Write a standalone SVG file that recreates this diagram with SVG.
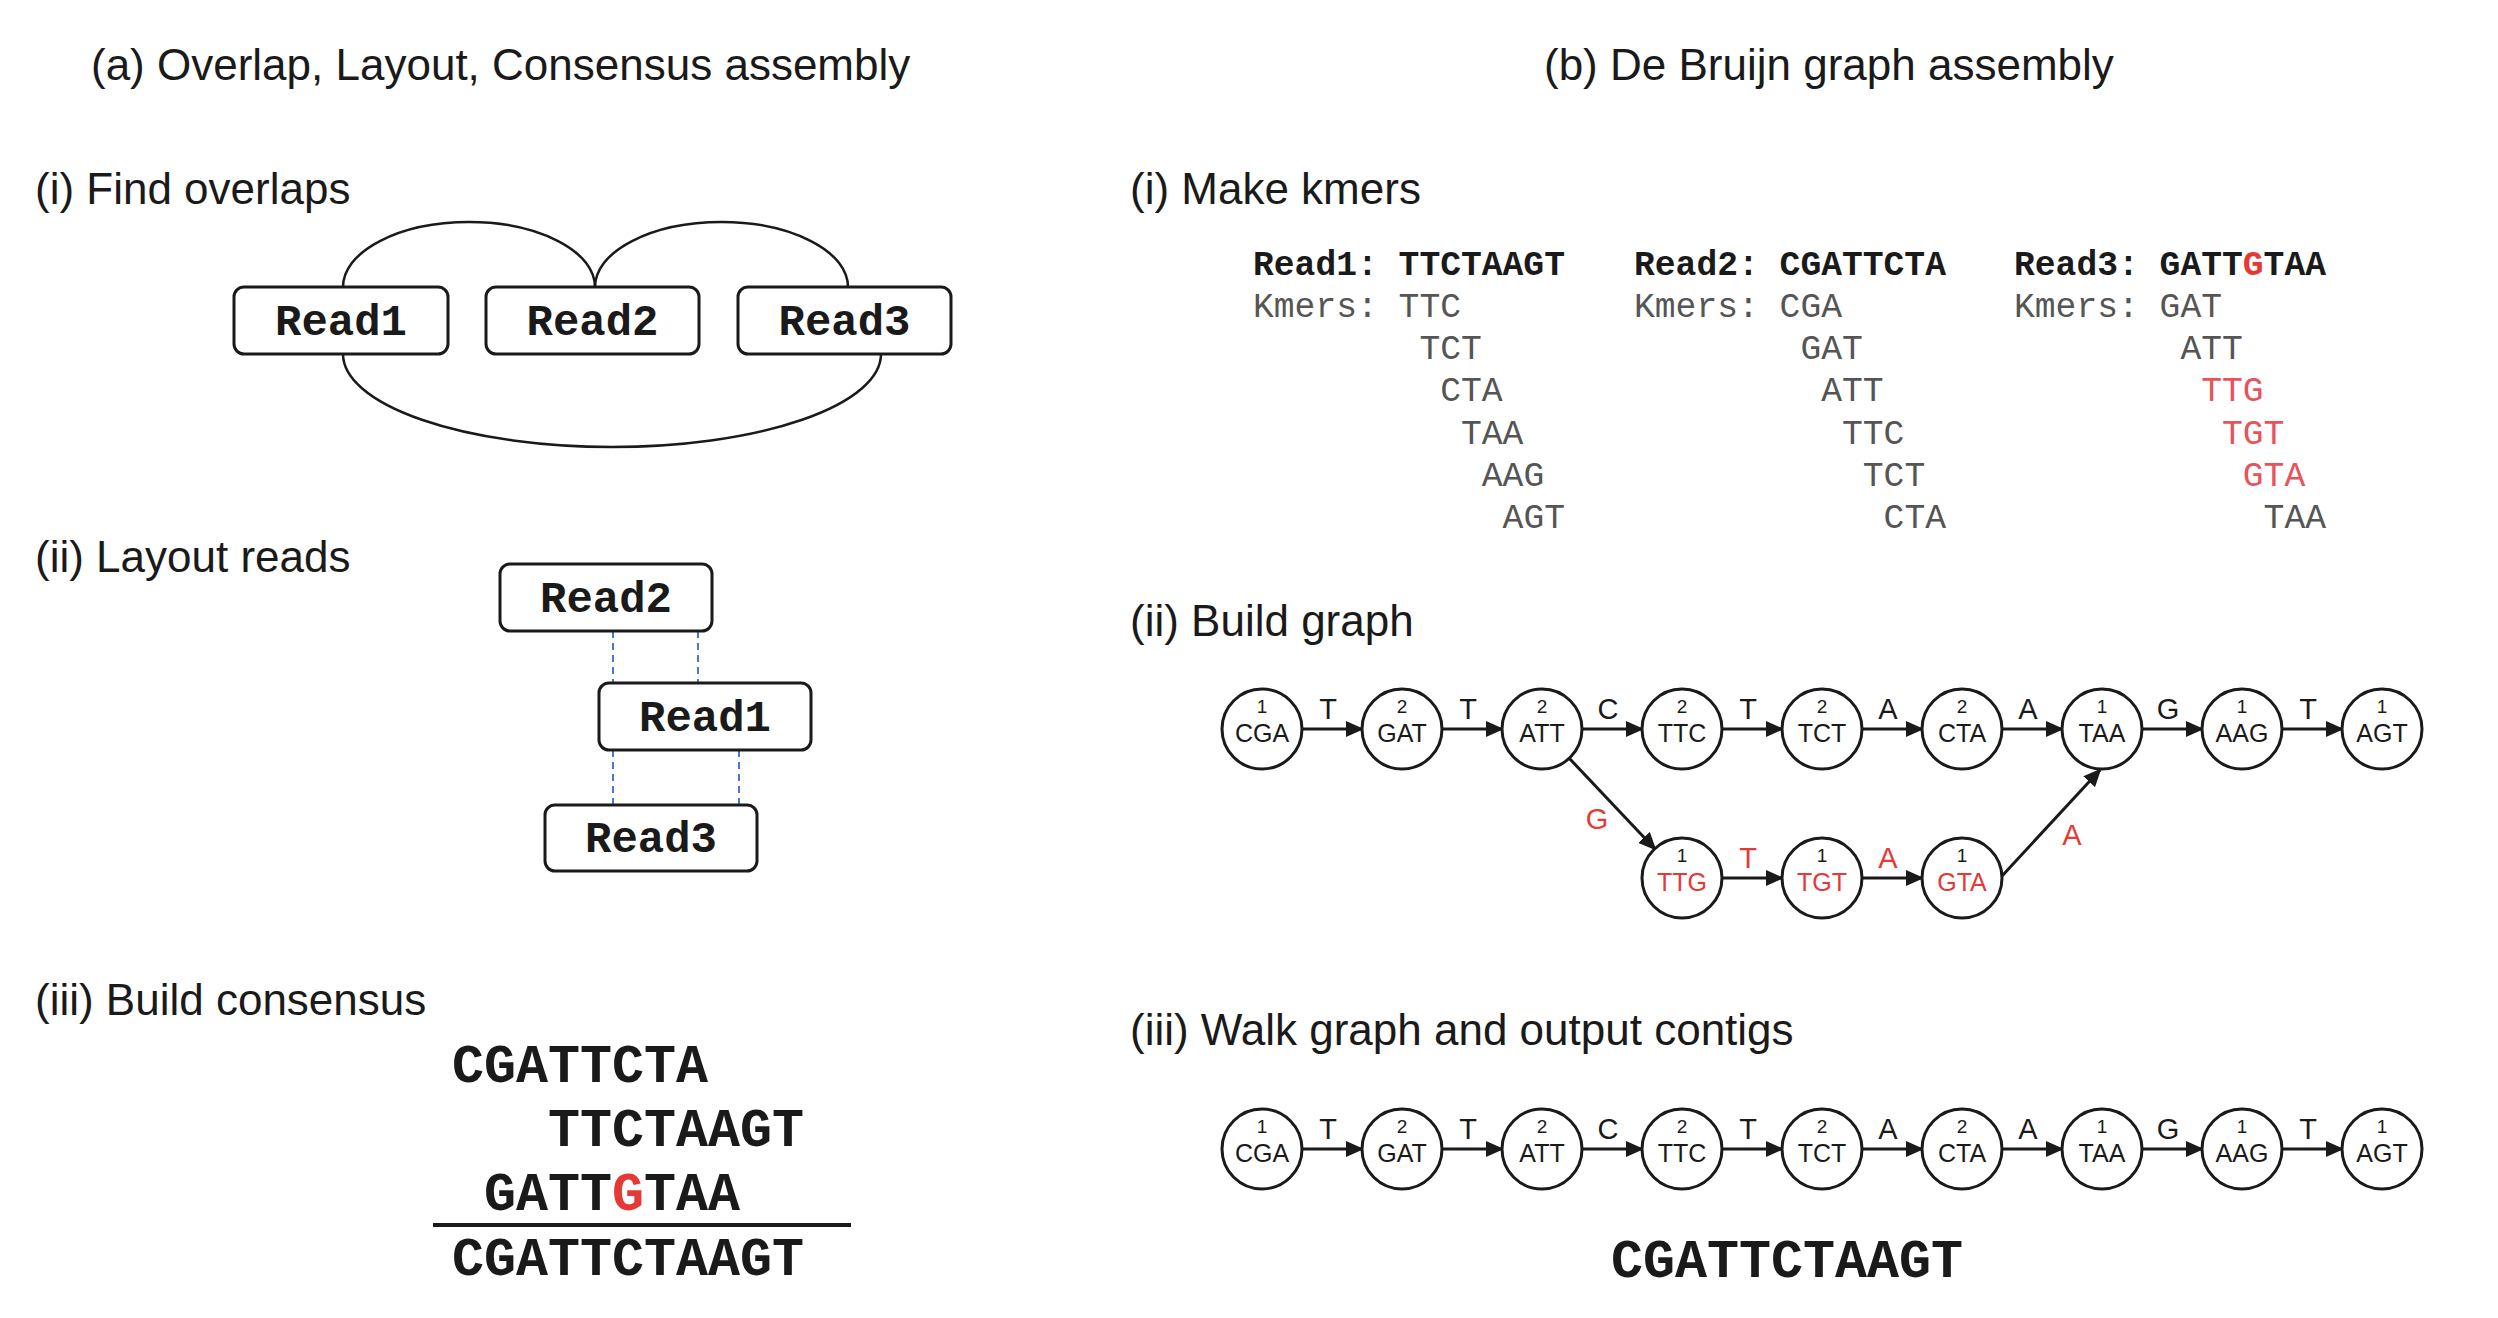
<svg xmlns="http://www.w3.org/2000/svg" width="2498" height="1318" viewBox="0 0 2498 1318">
<style>
.h{font-family:"Liberation Sans",Arial,sans-serif;font-size:44px;fill:#1a1a1a}
.box{fill:#fff;stroke:#1a1a1a;stroke-width:3}
.bt{font-family:"Liberation Mono","Courier New",monospace;font-weight:bold;font-size:44px;text-anchor:middle;fill:#1a1a1a}
.seq{font-family:"Liberation Mono","Courier New",monospace;font-weight:bold;font-size:53.33px;fill:#1a1a1a}
.kh{font-family:"Liberation Mono","Courier New",monospace;font-weight:bold;font-size:34.67px;fill:#1a1a1a}
.km{font-family:"Liberation Mono","Courier New",monospace;font-size:34.67px;fill:#555}
.arc{fill:none;stroke:#1a1a1a;stroke-width:2.5}
.dash{stroke:#4a78d0;stroke-width:2;stroke-dasharray:7 5}
.nc{fill:#fff;stroke:#1a1a1a;stroke-width:3}
.num{font-family:"Liberation Sans",Arial,sans-serif;font-size:19px;text-anchor:middle;fill:#1a1a1a}
.kmer{font-family:"Liberation Sans",Arial,sans-serif;font-size:25px;text-anchor:middle;fill:#1a1a1a}
.edge{stroke:#1a1a1a;stroke-width:3;fill:none;marker-end:url(#ah)}
.el{font-family:"Liberation Sans",Arial,sans-serif;font-size:29px;text-anchor:middle;fill:#1a1a1a}
.red{fill:#e53935}
.kred{fill:#e8525a}
</style>
<defs>
<marker id="ah" markerWidth="18" markerHeight="16" refX="16" refY="8" orient="auto" markerUnits="userSpaceOnUse"><path d="M0,0 L18,8 L0,16 z" fill="#1a1a1a"/></marker>
</defs>
<rect width="2498" height="1318" fill="#fff"/>

<!-- Headings -->
<text class="h" x="91" y="80">(a) Overlap, Layout, Consensus assembly</text>
<text class="h" x="35" y="204">(i) Find overlaps</text>
<text class="h" x="35" y="572">(ii) Layout reads</text>
<text class="h" x="35" y="1015">(iii) Build consensus</text>
<text class="h" x="1544" y="80">(b) De Bruijn graph assembly</text>
<text class="h" x="1130" y="204">(i) Make kmers</text>
<text class="h" x="1130" y="636">(ii) Build graph</text>
<text class="h" x="1130" y="1045">(iii) Walk graph and output contigs</text>

<!-- (a)(i) overlap connectors -->
<g id="overlap-connectors">
<path class="arc" d="M343,287 A126,65 0 0 1 595,287"/>
<path class="arc" d="M595,287 A126.5,65 0 0 1 848,287"/>
<path class="arc" d="M343,354 A269,93 0 0 0 881,354"/>
</g>
<g id="ov-read1"><rect class="box" x="234" y="287" width="214" height="67" rx="10"/><text class="bt" x="341" y="335">Read1</text></g>
<g id="ov-read2"><rect class="box" x="486" y="287" width="213" height="67" rx="10"/><text class="bt" x="592.5" y="335">Read2</text></g>
<g id="ov-read3"><rect class="box" x="738" y="287" width="213" height="67" rx="10"/><text class="bt" x="844.5" y="335">Read3</text></g>

<!-- (a)(ii) layout -->
<g id="layout-connectors">
<line class="dash" x1="613" y1="631" x2="613" y2="683"/>
<line class="dash" x1="698" y1="631" x2="698" y2="683"/>
<line class="dash" x1="613" y1="750" x2="613" y2="805"/>
<line class="dash" x1="739" y1="750" x2="739" y2="805"/>
</g>
<g id="lay-read2"><rect class="box" x="500" y="564" width="212" height="67" rx="10"/><text class="bt" x="606" y="612">Read2</text></g>
<g id="lay-read1"><rect class="box" x="599" y="683" width="212" height="67" rx="10"/><text class="bt" x="705" y="731">Read1</text></g>
<g id="lay-read3"><rect class="box" x="545" y="805" width="212" height="66" rx="10"/><text class="bt" x="651" y="852">Read3</text></g>

<!-- (a)(iii) consensus -->
<g id="consensus">
<text class="seq" x="452" y="1082">CGATTCTA</text>
<text class="seq" x="548" y="1146">TTCTAAGT</text>
<text class="seq" x="484" y="1210">GATT<tspan class="red">G</tspan>TAA</text>
<line x1="433" y1="1225" x2="851" y2="1225" stroke="#1a1a1a" stroke-width="4"/>
<text class="seq" x="452" y="1275">CGATTCTAAGT</text>
</g>

<!-- (b)(i) kmers -->
<g id="kmers-read1">
<text class="kh" x="1253" y="275" xml:space="preserve">Read1: TTCTAAGT</text>
<text class="km" x="1253" y="317">Kmers:</text>
<text class="km" x="1398.6" y="317">TTC</text>
<text class="km" x="1419.4" y="359">TCT</text>
<text class="km" x="1440.2" y="401">CTA</text>
<text class="km" x="1461" y="444">TAA</text>
<text class="km" x="1481.8" y="486">AAG</text>
<text class="km" x="1502.6" y="528">AGT</text>
</g>
<g id="kmers-read2">
<text class="kh" x="1634" y="275" xml:space="preserve">Read2: CGATTCTA</text>
<text class="km" x="1634" y="317">Kmers:</text>
<text class="km" x="1779.6" y="317">CGA</text>
<text class="km" x="1800.4" y="359">GAT</text>
<text class="km" x="1821.2" y="401">ATT</text>
<text class="km" x="1842" y="444">TTC</text>
<text class="km" x="1862.8" y="486">TCT</text>
<text class="km" x="1883.6" y="528">CTA</text>
</g>
<g id="kmers-read3">
<text class="kh" x="2014" y="275" xml:space="preserve">Read3: GATT<tspan class="red">G</tspan>TAA</text>
<text class="km" x="2014" y="317">Kmers:</text>
<text class="km" x="2159.6" y="317">GAT</text>
<text class="km" x="2180.4" y="359">ATT</text>
<text class="km kred" x="2201.2" y="401">TTG</text>
<text class="km kred" x="2222" y="444">TGT</text>
<text class="km kred" x="2242.8" y="486">GTA</text>
<text class="km" x="2263.6" y="528">TAA</text>
</g>

<!-- (b)(ii) graph connectors -->
<g id="graph-connectors">
<line class="edge" x1="1302" y1="729" x2="1362" y2="729"/>
<line class="edge" x1="1442" y1="729" x2="1502" y2="729"/>
<line class="edge" x1="1582" y1="729" x2="1642" y2="729"/>
<line class="edge" x1="1722" y1="729" x2="1782" y2="729"/>
<line class="edge" x1="1862" y1="729" x2="1922" y2="729"/>
<line class="edge" x1="2002" y1="729" x2="2062" y2="729"/>
<line class="edge" x1="2142" y1="729" x2="2202" y2="729"/>
<line class="edge" x1="2282" y1="729" x2="2342" y2="729"/>
<line class="edge" x1="1569" y1="758" x2="1655" y2="849"/>
<line class="edge" x1="1722" y1="878" x2="1782" y2="878"/>
<line class="edge" x1="1862" y1="878" x2="1922" y2="878"/>
<line class="edge" x1="2002" y1="876" x2="2100" y2="770"/>
<text class="el" x="1328" y="719">T</text>
<text class="el" x="1468" y="719">T</text>
<text class="el" x="1608" y="719">C</text>
<text class="el" x="1748" y="719">T</text>
<text class="el" x="1888" y="719">A</text>
<text class="el" x="2028" y="719">A</text>
<text class="el" x="2168" y="719">G</text>
<text class="el" x="2308" y="719">T</text>
<text class="el red" x="1597" y="829">G</text>
<text class="el red" x="1748" y="868">T</text>
<text class="el red" x="1888" y="868">A</text>
<text class="el red" x="2072" y="845">A</text>
</g>
<g id="g-CGA"><circle class="nc" cx="1262" cy="729" r="40"/><text class="num" x="1262" y="713">1</text><text class="kmer" x="1262" y="742">CGA</text></g>
<g id="g-GAT"><circle class="nc" cx="1402" cy="729" r="40"/><text class="num" x="1402" y="713">2</text><text class="kmer" x="1402" y="742">GAT</text></g>
<g id="g-ATT"><circle class="nc" cx="1542" cy="729" r="40"/><text class="num" x="1542" y="713">2</text><text class="kmer" x="1542" y="742">ATT</text></g>
<g id="g-TTC"><circle class="nc" cx="1682" cy="729" r="40"/><text class="num" x="1682" y="713">2</text><text class="kmer" x="1682" y="742">TTC</text></g>
<g id="g-TCT"><circle class="nc" cx="1822" cy="729" r="40"/><text class="num" x="1822" y="713">2</text><text class="kmer" x="1822" y="742">TCT</text></g>
<g id="g-CTA"><circle class="nc" cx="1962" cy="729" r="40"/><text class="num" x="1962" y="713">2</text><text class="kmer" x="1962" y="742">CTA</text></g>
<g id="g-TAA"><circle class="nc" cx="2102" cy="729" r="40"/><text class="num" x="2102" y="713">1</text><text class="kmer" x="2102" y="742">TAA</text></g>
<g id="g-AAG"><circle class="nc" cx="2242" cy="729" r="40"/><text class="num" x="2242" y="713">1</text><text class="kmer" x="2242" y="742">AAG</text></g>
<g id="g-AGT"><circle class="nc" cx="2382" cy="729" r="40"/><text class="num" x="2382" y="713">1</text><text class="kmer" x="2382" y="742">AGT</text></g>
<g id="g-TTG"><circle class="nc" cx="1682" cy="878" r="40"/><text class="num" x="1682" y="862">1</text><text class="kmer red" x="1682" y="891">TTG</text></g>
<g id="g-TGT"><circle class="nc" cx="1822" cy="878" r="40"/><text class="num" x="1822" y="862">1</text><text class="kmer red" x="1822" y="891">TGT</text></g>
<g id="g-GTA"><circle class="nc" cx="1962" cy="878" r="40"/><text class="num" x="1962" y="862">1</text><text class="kmer red" x="1962" y="891">GTA</text></g>

<!-- (b)(iii) contig walk -->
<g id="walk-connectors">
<line class="edge" x1="1302" y1="1149" x2="1362" y2="1149"/>
<line class="edge" x1="1442" y1="1149" x2="1502" y2="1149"/>
<line class="edge" x1="1582" y1="1149" x2="1642" y2="1149"/>
<line class="edge" x1="1722" y1="1149" x2="1782" y2="1149"/>
<line class="edge" x1="1862" y1="1149" x2="1922" y2="1149"/>
<line class="edge" x1="2002" y1="1149" x2="2062" y2="1149"/>
<line class="edge" x1="2142" y1="1149" x2="2202" y2="1149"/>
<line class="edge" x1="2282" y1="1149" x2="2342" y2="1149"/>
<text class="el" x="1328" y="1139">T</text>
<text class="el" x="1468" y="1139">T</text>
<text class="el" x="1608" y="1139">C</text>
<text class="el" x="1748" y="1139">T</text>
<text class="el" x="1888" y="1139">A</text>
<text class="el" x="2028" y="1139">A</text>
<text class="el" x="2168" y="1139">G</text>
<text class="el" x="2308" y="1139">T</text>
</g>
<g id="w-CGA"><circle class="nc" cx="1262" cy="1149" r="40"/><text class="num" x="1262" y="1133">1</text><text class="kmer" x="1262" y="1162">CGA</text></g>
<g id="w-GAT"><circle class="nc" cx="1402" cy="1149" r="40"/><text class="num" x="1402" y="1133">2</text><text class="kmer" x="1402" y="1162">GAT</text></g>
<g id="w-ATT"><circle class="nc" cx="1542" cy="1149" r="40"/><text class="num" x="1542" y="1133">2</text><text class="kmer" x="1542" y="1162">ATT</text></g>
<g id="w-TTC"><circle class="nc" cx="1682" cy="1149" r="40"/><text class="num" x="1682" y="1133">2</text><text class="kmer" x="1682" y="1162">TTC</text></g>
<g id="w-TCT"><circle class="nc" cx="1822" cy="1149" r="40"/><text class="num" x="1822" y="1133">2</text><text class="kmer" x="1822" y="1162">TCT</text></g>
<g id="w-CTA"><circle class="nc" cx="1962" cy="1149" r="40"/><text class="num" x="1962" y="1133">2</text><text class="kmer" x="1962" y="1162">CTA</text></g>
<g id="w-TAA"><circle class="nc" cx="2102" cy="1149" r="40"/><text class="num" x="2102" y="1133">1</text><text class="kmer" x="2102" y="1162">TAA</text></g>
<g id="w-AAG"><circle class="nc" cx="2242" cy="1149" r="40"/><text class="num" x="2242" y="1133">1</text><text class="kmer" x="2242" y="1162">AAG</text></g>
<g id="w-AGT"><circle class="nc" cx="2382" cy="1149" r="40"/><text class="num" x="2382" y="1133">1</text><text class="kmer" x="2382" y="1162">AGT</text></g>
<text class="seq" x="1611" y="1277">CGATTCTAAGT</text>
</svg>
